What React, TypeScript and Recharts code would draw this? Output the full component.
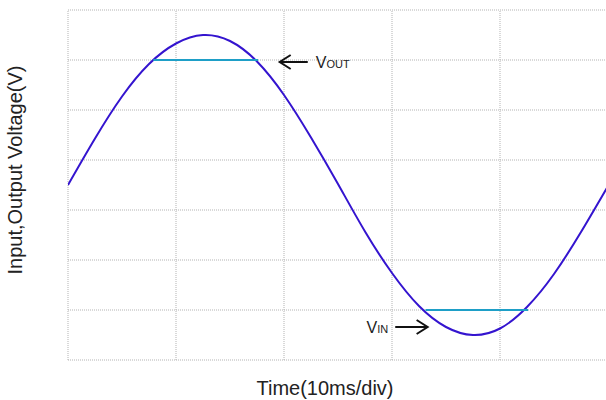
import React from 'react';
import { LineChart, Line, XAxis, YAxis, ReferenceLine } from 'recharts';

// Time in divisions (10 ms/div)
const TIME = [0, 0.25, 0.5, 0.75, 1, 1.25, 1.5, 1.75, 2, 2.25, 2.5, 2.75, 3, 3.25, 3.5, 3.75, 4, 4.25, 4.5, 4.75, 5];
// Input voltage in divisions
const VIN = [3.5, 4.43, 5.27, 5.92, 6.33, 6.5, 6.38, 5.97, 5.3, 4.45, 3.52, 2.57, 1.74, 1.08, 0.66, 0.5, 0.63, 1.06, 1.72, 2.56, 3.48];
// Clipped output flat segments
const VOUT_TOP_T = [0.79, 1.76];
const VOUT_TOP_V = 6;
const VOUT_BOTTOM_T = [3.31, 4.26];
const VOUT_BOTTOM_V = 1;

const X_TICKS = [0, 1, 2, 3, 4, 5];
const Y_TICKS = [0, 1, 2, 3, 4, 5, 6, 7];

const vinData = TIME.map((t, i) => ({ t, v: VIN[i] }));
const voutTop = VOUT_TOP_T.map((t) => ({ t, v: VOUT_TOP_V }));
const voutBottom = VOUT_BOTTOM_T.map((t) => ({ t, v: VOUT_BOTTOM_V }));

const FONT = '"Liberation Sans", Arial, sans-serif';
const GRID = '#b3b3b3';

const makeArrow = (main: string, sub: string, side: 'right' | 'left') => (props: any) => {
  const { x1, y1, x2, y2 } = props;
  const dx = x2 - x1;
  const dy = y2 - y1;
  const len = Math.sqrt(dx * dx + dy * dy) || 1;
  const ux = dx / len;
  const uy = dy / len;
  const back = 11;
  const spread = 7;
  const ax = x2 - ux * back;
  const ay = y2 - uy * back;
  const p1 = `${ax - uy * spread},${ay + ux * spread}`;
  const p2 = `${ax + uy * spread},${ay - ux * spread}`;
  const textX = side === 'right' ? Math.max(x1, x2) + 8 : Math.min(x1, x2) - 7;
  return (
    <g>
      <line x1={x1} y1={y1} x2={x2} y2={y2} stroke="#111" strokeWidth={2} />
      <polyline points={`${p1} ${x2},${y2} ${p2}`} fill="none" stroke="#111" strokeWidth={2} />
      <text
        x={textX}
        y={y1 + 6}
        fontFamily={FONT}
        fill="#222"
        textAnchor={side === 'right' ? 'start' : 'end'}
      >
        <tspan fontSize={16}>{main}</tspan>
        <tspan fontSize={11}>{sub}</tspan>
      </text>
    </g>
  );
};

export default function App() {
  return (
    <div style={{ position: 'absolute', left: 0, top: 0, width: 606, height: 400, overflow: 'hidden', background: '#fff' }}>
      <LineChart width={608} height={400} margin={{ top: 10, right: 0, bottom: 39, left: 67 }}>
        <XAxis
          type="number"
          dataKey="t"
          domain={[0, 5]}
          ticks={X_TICKS}
          axisLine={false}
          tickLine={false}
          tick={false}
          height={1}
          allowDataOverflow
          label={{
            content: (p: any) => {
              const vb = p.viewBox;
              return (
                <text x={vb.x + vb.width / 2 - 13} y={vb.y + 35} textAnchor="middle" fontFamily={FONT} fontSize={20} fill="#222">
                  Time(10ms/div)
                </text>
              );
            },
          }}
        />
        <YAxis
          type="number"
          domain={[0, 7]}
          ticks={Y_TICKS}
          axisLine={false}
          tickLine={false}
          tick={false}
          width={1}
          allowDataOverflow
          label={{
            content: (p: any) => {
              const vb = p.viewBox;
              const cx = vb.x + vb.width - 46;
              const cy = vb.y + vb.height / 2 - 15;
              return (
                <text x={cx} y={cy} transform={`rotate(-90, ${cx}, ${cy})`} textAnchor="middle" fontFamily={FONT} fontSize={20} fill="#222">
                  Input,Output Voltage(V)
                </text>
              );
            },
          }}
        />
        {X_TICKS.map((x) => (
          <ReferenceLine key={`gx${x}`} x={x} stroke={GRID} strokeDasharray="1 1" strokeWidth={1} ifOverflow="visible" />
        ))}
        {Y_TICKS.map((y) => (
          <ReferenceLine key={`gy${y}`} y={y} stroke={GRID} strokeDasharray="1 1" strokeWidth={1} ifOverflow="visible" />
        ))}
        <Line data={vinData} dataKey="v" type="natural" stroke="#3414cf" strokeWidth={2} dot={false} activeDot={false} isAnimationActive={false} />
        <Line data={voutTop} dataKey="v" type="linear" stroke="#1e9fc7" strokeWidth={2} dot={false} activeDot={false} isAnimationActive={false} />
        <Line data={voutBottom} dataKey="v" type="linear" stroke="#1e9fc7" strokeWidth={2} dot={false} activeDot={false} isAnimationActive={false} />
        <ReferenceLine
          segment={[{ x: 2.22, y: 5.96 }, { x: 1.96, y: 5.96 }]}
          ifOverflow="visible"
          shape={makeArrow('V', 'OUT', 'right')}
        />
        <ReferenceLine
          segment={[{ x: 3.03, y: 0.66 }, { x: 3.33, y: 0.66 }]}
          ifOverflow="visible"
          shape={makeArrow('V', 'IN', 'left')}
        />
      </LineChart>
    </div>
  );
}
